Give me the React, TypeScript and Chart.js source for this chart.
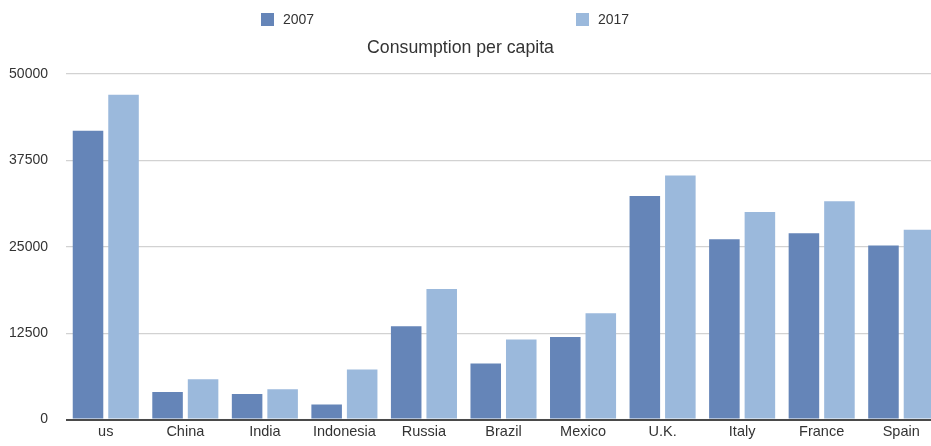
import React, { useEffect, useRef } from "react";
import { Chart, registerables } from "chart.js";

Chart.register(...registerables);

const categories = ["us", "China", "India", "Indonesia", "Russia", "Brazil", "Mexico", "U.K.", "Italy", "France", "Spain"];
const values2007 = [41800, 4000, 3700, 2200, 13500, 8100, 11950, 32350, 26100, 26950, 25200];
const values2017 = [47000, 5850, 4400, 7250, 18900, 11600, 15400, 35300, 30050, 31600, 27450];
const seriesLabels = ["2007", "2017"];
const seriesColors = ["#6585b8", "#9bb9dc"];
const chartTitle = "Consumption per capita";
const yMax = 50000;
const yStep = 12500;

const FONT = "'Liberation Sans', Arial, Helvetica, sans-serif";

const headerPlugin = {
  id: "headerPlugin",
  afterDraw(chart: any) {
    const ctx = chart.ctx;
    ctx.save();
    const legendX = [261, 576];
    chart.data.datasets.forEach((ds: any, i: number) => {
      const x = legendX[i];
      ctx.fillStyle = ds.backgroundColor;
      ctx.fillRect(x, 13, 13, 13);
      ctx.fillStyle = "#333333";
      ctx.font = `14px ${FONT}`;
      ctx.textBaseline = "middle";
      ctx.textAlign = "left";
      ctx.fillText(ds.label, x + 22, 20);
    });
    ctx.font = `17.7px ${FONT}`;
    ctx.fillStyle = "#333333";
    ctx.textAlign = "center";
    ctx.textBaseline = "alphabetic";
    ctx.fillText(chartTitle, 460.5, 53);
    ctx.restore();
  },
};

export default function App() {
  const canvasRef = useRef<HTMLCanvasElement | null>(null);

  useEffect(() => {
    if (!canvasRef.current) return;
    const chart = new Chart(canvasRef.current, {
      type: "bar",
      data: {
        labels: categories,
        datasets: [
          { label: seriesLabels[0], data: values2007, backgroundColor: seriesColors[0] },
          { label: seriesLabels[1], data: values2017, backgroundColor: seriesColors[1] },
        ],
      },
      options: {
        responsive: false,
        animation: false,
        devicePixelRatio: 1,
        layout: { padding: { left: 9, right: 0, top: 74, bottom: 0 } },
        datasets: { bar: { categoryPercentage: 0.893, barPercentage: 0.86 } },
        plugins: {
          legend: { display: false },
          title: { display: false },
          tooltip: { enabled: false },
        },
        scales: {
          x: {
            grid: { display: false, drawTicks: false },
            border: { display: false },
            afterFit: (s: any) => {
              s.height = 23.3;
            },
            ticks: {
              padding: 4,
              color: "#333333",
              font: { family: FONT, size: 14.5 },
              maxRotation: 0,
              autoSkip: false,
            },
          },
          y: {
            min: 0,
            max: yMax,
            border: { display: false },
            afterFit: (s: any) => {
              s.width = 57;
            },
            grid: {
              drawTicks: false,
              color: (c: any) => (c.tick && c.tick.value === 0 ? "#4a4a4a" : "#d2d2d2"),
              lineWidth: (c: any) => (c.tick && c.tick.value === 0 ? 2 : 1.2),
            },
            ticks: {
              stepSize: yStep,
              padding: 18,
              color: "#333333",
              font: { family: FONT, size: 14 },
              callback: (v: any) => String(v),
            },
          },
        },
      },
      plugins: [headerPlugin],
    });
    return () => chart.destroy();
  }, []);

  return (
    <div style={{ position: "fixed", left: 0, top: 0, width: 931, height: 446, overflow: "hidden", background: "#ffffff" }}>
      <canvas ref={canvasRef} width={941} height={446} style={{ display: "block", width: 941, height: 446 }} />
    </div>
  );
}
